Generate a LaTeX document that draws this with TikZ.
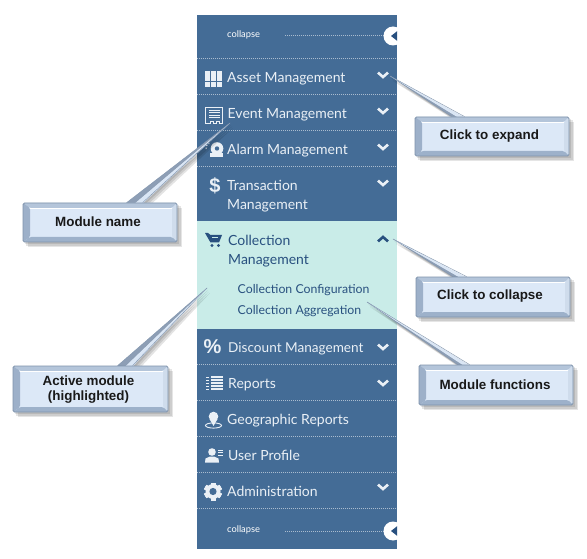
\documentclass[tikz,border=0pt]{standalone}
\usepackage{fontspec}
\setmainfont{Liberation Sans}
\newfontfamily\menufont{Lato}
\usetikzlibrary{calc}
\pgfdeclarelayer{tails}
\pgfdeclarelayer{boxes}
\pgfsetlayers{main,tails,boxes}
\definecolor{panelblue}{HTML}{446C96}
\definecolor{activebg}{HTML}{C9ECE8}
\definecolor{activetxt}{HTML}{28507F}
\definecolor{menutxt}{HTML}{EAF0F6}
\definecolor{boxfill}{HTML}{DCE8F7}
\definecolor{bevtop}{HTML}{B4C5DA}
\definecolor{bevleft}{HTML}{9DB0C9}
\definecolor{bevright}{HTML}{CFDCEC}
\definecolor{bevbot}{HTML}{9DB1CA}
\definecolor{edgeblue}{HTML}{7F93AC}
\tikzset{
  menuitem/.style={anchor=base west,inner sep=0pt,text=menutxt,font=\menufont\fontsize{14}{14}\selectfont},
  activeitem/.style={menuitem,text=activetxt},
  subitem/.style={anchor=base west,inner sep=0pt,text=activetxt,font=\menufont\fontsize{12.3}{12.3}\selectfont},
  smallitem/.style={inner sep=0pt,text=white,font=\menufont\fontsize{9.3}{9.3}\selectfont},
  sepline/.style={draw=white,opacity=.55,line width=.6pt,dash pattern=on .8pt off 1.2pt},
  chev/.style={draw=menutxt,line width=2.6pt,line join=miter},
  calloutlabel/.style={inner sep=0pt,align=center,text=black!90,font=\bfseries\fontsize{13.4}{15.5}\selectfont},
  calloutbox/.style={
    rectangle,draw=edgeblue,line width=.8pt,rounded corners=1.5pt,fill=boxfill,
    inner sep=0pt,
    path picture={
      \coordinate (nw) at (path picture bounding box.north west);
      \coordinate (se) at (path picture bounding box.south east);
      \coordinate (ne) at (path picture bounding box.north east);
      \coordinate (sw) at (path picture bounding box.south west);
      \fill[bevtop] (nw) -- (ne) -- ($(ne)+(-5,5)$) -- ($(nw)+(7,5)$) -- cycle;
      \fill[bevleft] (nw) -- (sw) -- ($(sw)+(7,-5)$) -- ($(nw)+(7,5)$) -- cycle;
      \fill[bevright] (ne) -- (se) -- ($(se)+(-5,-5)$) -- ($(ne)+(-5,5)$) -- cycle;
      \fill[bevbot] (sw) -- (se) -- ($(se)+(-5,-5)$) -- ($(sw)+(7,-5)$) -- cycle;
      \draw[white,line width=.7pt] ($(nw)+(7,5)$) -- ($(ne)+(-5,5)$);
    }},
  tailshadow/.style={fill=black,opacity=.11},
  taildark/.style={fill=bevleft!90!black,draw=edgeblue,line width=.3pt},
  taillight/.style={fill=boxfill!85!bevright,draw=none},
  boxshadow/.style={fill=black,opacity=.1}
}
\newcommand{\calloutshadow}[1]{%
  \foreach \d in {2,3.5,5}{\fill[boxshadow] ($(#1.north west)+(\d,\d)$) rectangle ($(#1.south east)+(\d,\d)$);}}
\newcommand{\callouttail}[4]{%
  \coordinate (bl) at ($(#1.north west)+(#3,0)$);
  \coordinate (br) at ($(#1.north west)+(#4,0)$);
  \coordinate (bm) at ($(bl)!.5!(br)$);
  \foreach \d in {2,3.5,5}{\fill[tailshadow] ($(#2)+(\d*.6,\d)$) -- ($(bl)+(\d,\d)$) -- ($(br)+(\d,\d)$) -- cycle;}
  \fill[taildark] (#2) -- (bl) -- ($(bm)+(0,1)$) -- cycle;
  \fill[taillight] (#2) -- ($(bm)+(0,1)$) -- ($(br)+(0,1)$) -- cycle;
  \draw[edgeblue,line width=.4pt] (#2) -- (br);
}
\newcommand{\chevdown}[1]{\draw[chev] (378,#1-2.4) -- (383,#1+2) -- (388,#1-2.4);}
\newcommand{\sepat}[1]{\draw[sepline] (197,#1) -- (397,#1);}
\begin{document}
\begin{tikzpicture}[x=1pt,y=-1pt]
\useasboundingbox (0,0) rectangle (587,559);
\fill[white] (0,0) rectangle (587,559);
\fill[panelblue] (197,15) rectangle (397,549);
\fill[activebg] (197,221) rectangle (397,328.5);
\foreach \y in {58,94,130,166,364.5,400.5,436.5,472.5,508.5}{\sepat{\y}}
\draw[sepline] (285,35) -- (384,35);
\draw[sepline] (285,531) -- (384,531);
\begin{scope}
\clip (197,15) rectangle (397,549);
\fill[white] (393,36) circle (9.5);
\fill[white] (393,531) circle (9.5);
\fill[activetxt] (391,36) -- (398,30.5) -- (398,41.5) -- cycle;
\fill[activetxt] (391,531) -- (398,525.5) -- (398,536.5) -- cycle;
\end{scope}
\node[smallitem,anchor=west] (c1) at (227,34.5) {collapse};
\node[smallitem,anchor=west] (c2) at (227,530) {collapse};
\node[menuitem] (m1) at (227,82.5) {Asset Management};
\node[menuitem] (m2) at (227.5,118.5) {Event Management};
\node[menuitem] (m3) at (227,154.5) {Alarm Management};
\node[menuitem] (m4) at (227,190.5) {Transaction};
\node[menuitem] (m4b) at (227,209.5) {Management};
\node[activeitem] (m5) at (228,245.5) {Collection};
\node[activeitem] (m5b) at (228,264.5) {Management};
\node[subitem] (s1) at (237.5,293.5) {Collection Configuration};
\node[subitem] (s2) at (237.5,314.5) {Collection Aggregation};
\node[menuitem,font=\menufont\fontsize{13.6}{14}\selectfont] (m6) at (228,352.5) {Discount Management};
\node[menuitem] (m7) at (228,388.5) {Reports};
\node[menuitem] (m8) at (227,424.5) {Geographic Reports};
\node[menuitem] (m9) at (228,460.5) {User Profile};
\node[menuitem] (m10) at (227,496.5) {Administration};
\foreach \y in {75,111,147,183,347,383,487}{\chevdown{\y}}
\draw[chev,draw=activetxt] (378,241.4) -- (383,237) -- (388,241.4);
\foreach \i in {0,1,2}{\foreach \j in {0,1,2}{
  \fill[menutxt] (205+\i*6,71+\j*5.5) rectangle +(5.2,4.9);}}
\draw[menutxt,line width=.9pt] (205.5,107) -- (222,107) -- (222,123.5) -- (219.5,123.5) -- (219.5,121.5) -- (216.5,121.5) -- (216.5,123.5) -- (213.5,123.5) -- (213.5,121.5) -- (210.5,121.5) -- (210.5,123.5) -- (205.5,123.5) -- cycle;
\foreach \y in {110,112.5,115,117.5}{\draw[menutxt,line width=.8pt] (209,\y) -- (220,\y);}
\fill[menutxt] (217,148.5) circle (6.3);
\fill[panelblue] (217,148.5) circle (2.2);
\fill[menutxt] (210,153.5) rectangle (223,157);
\draw[menutxt,line width=1pt,dash pattern=on 1.5pt off 1.5pt] (206,149) arc (170:250:5);
\node[inner sep=0pt,text=menutxt,font=\bfseries\fontsize{20}{20}\selectfont] (i4) at (215,186) {\$};
\fill[activetxt] (205,233) -- (208,233) -- (210.5,235) -- (222,235) -- (219,242.5) -- (210.5,242.5) -- cycle;
\fill[activebg] (211.5,237) rectangle (218,238);
\fill[activetxt] (212,245.5) circle (1.7) (218.5,245.5) circle (1.7);
\node[inner sep=0pt,text=menutxt,font=\bfseries\fontsize{20}{20}\selectfont] (i6) at (212.5,347) {\%};
\foreach \y in {377,380,383,386,389}{\fill[menutxt] (211,\y-.9) rectangle (223,\y+.9);}
\foreach \y in {377,380,383,386,389}{\fill[menutxt] (205.5,\y-.5) rectangle (209,\y+.5);}
\draw[menutxt,line width=.9pt] (213.5,425.5) ellipse (8 and 2.6);
\fill[menutxt] (213.5,416.5) circle (4.8);
\fill[menutxt] (209.5,419) -- (213.5,426) -- (217.5,419) -- cycle;
\fill[menutxt] (212,452) circle (3.8);
\fill[menutxt] (205,462.5) -- (205.5,458.5) -- (210,456.5) -- (214,456.5) -- (218.5,458.5) -- (219,462.5) -- cycle;
\foreach \y in {450,452.5,455}{\fill[menutxt] (218,\y-.5) rectangle (223,\y+.5);}
\foreach \a in {0,60,...,300}{\fill[menutxt,rotate around={\a:(213,491.5)}] (210.5,482.5) rectangle (215.5,500.5);}
\fill[menutxt] (213,491.5) circle (7.5);
\fill[panelblue] (213,491.5) circle (3.6);
\begin{pgfonlayer}{boxes}
\node[calloutbox,minimum width=154pt,minimum height=39pt] (cb1) at (492,136.5) {};
\node[calloutbox,minimum width=154pt,minimum height=39pt] (cb2) at (100,222.5) {};
\node[calloutbox,minimum width=155pt,minimum height=46pt] (cb3) at (90.5,389) {};
\node[calloutbox,minimum width=154pt,minimum height=40pt] (cb4) at (493,297) {};
\node[calloutbox,minimum width=154pt,minimum height=40pt] (cb5) at (496,385) {};
\node[calloutlabel] (t1) at (489.5,136.5) {Click to expand};
\node[calloutlabel] (t2) at (98,221.5) {Module name};
\node[calloutlabel] (t3) at (88.5,389.5) {Active module\\(highlighted)};
\node[calloutlabel] (t4) at (490,296.5) {Click to collapse};
\node[calloutlabel] (t5) at (495,384.5) {Module functions};
\end{pgfonlayer}
\coordinate (tip1) at (390,76);
\coordinate (tip2) at (230,123);
\coordinate (tip3) at (207,288);
\coordinate (tip4) at (393,239);
\coordinate (tip5) at (367,302);
\begin{pgfonlayer}{tails}
\calloutshadow{cb1}\calloutshadow{cb2}\calloutshadow{cb3}\calloutshadow{cb4}\calloutshadow{cb5}
\callouttail{cb1}{tip1}{37}{50}
\callouttail{cb2}{tip2}{104}{120}
\callouttail{cb3}{tip3}{105}{120}
\callouttail{cb4}{tip4}{37}{51}
\callouttail{cb5}{tip5}{39}{51}
\end{pgfonlayer}
\end{tikzpicture}
\end{document}
